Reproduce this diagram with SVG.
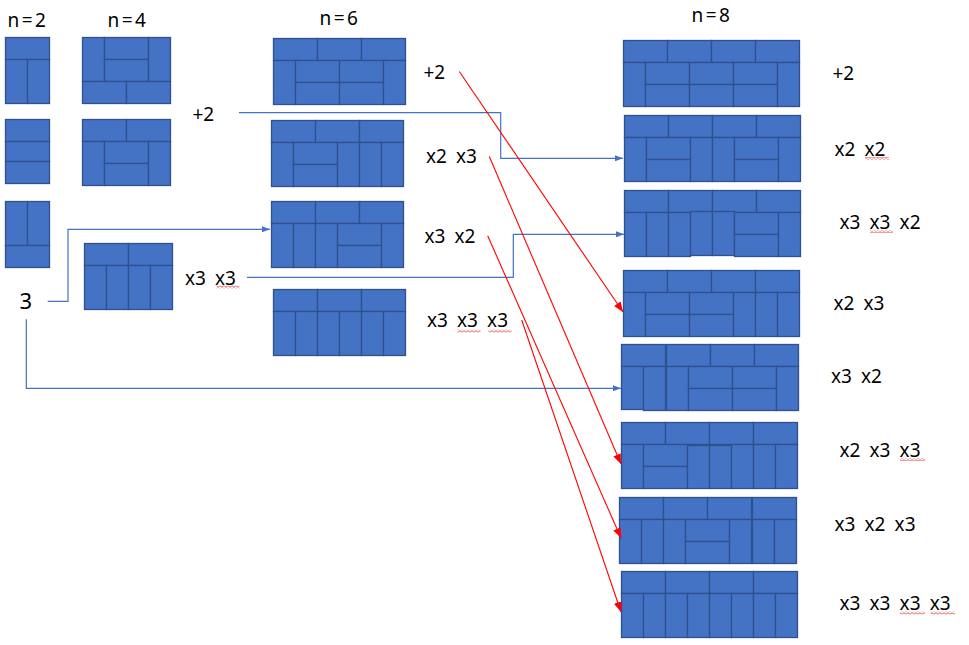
<svg xmlns="http://www.w3.org/2000/svg" width="969" height="645" viewBox="0 0 969 645">
<style>
.bk rect{fill:#4472C4;stroke:#2F528F;stroke-width:1.3}
.lbl{font-family:"Noto Sans","DejaVu Sans",sans-serif;font-size:19px;fill:#000;word-spacing:4.2px}
.hdr{font-family:"Noto Sans","DejaVu Sans",sans-serif;font-size:19px;fill:#000;letter-spacing:2.5px;text-anchor:middle}
.blue{fill:none;stroke:#4472C4;stroke-width:1.2}
.red{fill:none;stroke:#FF0000;stroke-width:1.1}
.wav{fill:url(#wave)}
</style>
<defs>
<marker id="ab" viewBox="0 0 8 6" refX="8" refY="3" markerWidth="8" markerHeight="6" markerUnits="userSpaceOnUse" orient="auto"><path d="M0,0L8,3L0,6z" fill="#4472C4"/></marker>
<marker id="ar" viewBox="0 0 10 8" refX="10" refY="4" markerWidth="10" markerHeight="8" markerUnits="userSpaceOnUse" orient="auto"><path d="M0,0L10,4L0,8z" fill="#FF0000"/></marker>
<pattern id="wave" width="4" height="3" patternUnits="userSpaceOnUse"><path d="M0,0.6L2,2.4L4,0.6" fill="none" stroke="#E02020" stroke-width="0.8"/></pattern>
<g id="t4" fill="#4472C4" stroke="#2F528F" stroke-width="1.3"><rect x="0" y="0" width="44" height="22"/><rect x="44" y="0" width="44" height="22"/><rect x="88" y="0" width="44" height="22"/><rect x="132" y="0" width="44" height="22"/></g>
<g id="t3" fill="#4472C4" stroke="#2F528F" stroke-width="1.3"><rect x="0" y="0" width="44" height="22"/><rect x="44" y="0" width="44" height="22"/><rect x="88" y="0" width="44" height="22"/></g>
</defs>

<!-- headers -->
<text class="hdr" x="28" y="26.5">n=2</text>
<text class="hdr" x="128" y="26.5">n=4</text>
<text class="hdr" x="340" y="25">n=6</text>
<text class="hdr" x="712" y="21.5">n=8</text>

<!-- n=2 -->
<g id="n2-a" class="bk" transform="translate(5.5,37.5)">
<rect x="0" y="0" width="44" height="22"/><rect x="0" y="22" width="22" height="44"/><rect x="22" y="22" width="22" height="44"/>
</g>
<g id="n2-b" class="bk" transform="translate(5.5,119.5)">
<rect x="0" y="0" width="44" height="22"/><rect x="0" y="22" width="44" height="20"/><rect x="0" y="42" width="44" height="22"/>
</g>
<g id="n2-c" class="bk" transform="translate(5.5,201.5)">
<rect x="0" y="0" width="22" height="44"/><rect x="22" y="0" width="22" height="44"/><rect x="0" y="44" width="44" height="22"/>
</g>

<!-- n=4 -->
<g id="n4-a" class="bk" transform="translate(82.5,37.5)">
<rect x="0" y="0" width="22" height="44"/><rect x="22" y="0" width="44" height="22"/><rect x="22" y="22" width="44" height="22"/><rect x="66" y="0" width="22" height="44"/><rect x="0" y="44" width="44" height="22"/><rect x="44" y="44" width="44" height="22"/>
</g>
<g id="n4-b" class="bk" transform="translate(82.5,119.5)">
<rect x="0" y="0" width="44" height="22"/><rect x="44" y="0" width="44" height="22"/><rect x="0" y="22" width="22" height="44"/><rect x="22" y="22" width="44" height="22"/><rect x="22" y="44" width="44" height="22"/><rect x="66" y="22" width="22" height="44"/>
</g>
<g id="n4-c" class="bk" transform="translate(84.5,243.5)">
<rect x="0" y="0" width="44" height="22"/><rect x="44" y="0" width="44" height="22"/><rect x="0" y="22" width="22" height="44"/><rect x="22" y="22" width="22" height="44"/><rect x="44" y="22" width="22" height="44"/><rect x="66" y="22" width="22" height="44"/>
</g>

<!-- n=6 -->
<g id="n6-a" class="bk" transform="translate(273.5,38.5)">
<use href="#t3"/><rect x="0" y="22" width="22" height="44"/><rect x="22" y="22" width="44" height="22"/><rect x="22" y="44" width="44" height="22"/><rect x="66" y="22" width="44" height="22"/><rect x="66" y="44" width="44" height="22"/><rect x="110" y="22" width="22" height="44"/>
</g>
<g id="n6-b" class="bk" transform="translate(271.5,120.5)">
<use href="#t3"/><rect x="0" y="22" width="22" height="44"/><rect x="22" y="22" width="44" height="22"/><rect x="22" y="44" width="44" height="22"/><rect x="66" y="22" width="22" height="44"/><rect x="88" y="22" width="22" height="44"/><rect x="110" y="22" width="22" height="44"/>
</g>
<g id="n6-c" class="bk" transform="translate(271.5,201.5)">
<use href="#t3"/><rect x="0" y="22" width="22" height="44"/><rect x="22" y="22" width="22" height="44"/><rect x="44" y="22" width="22" height="44"/><rect x="66" y="22" width="44" height="22"/><rect x="66" y="44" width="44" height="22"/><rect x="110" y="22" width="22" height="44"/>
</g>
<g id="n6-d" class="bk" transform="translate(273.5,289.5)">
<use href="#t3"/><rect x="0" y="22" width="22" height="44"/><rect x="22" y="22" width="22" height="44"/><rect x="44" y="22" width="22" height="44"/><rect x="66" y="22" width="22" height="44"/><rect x="88" y="22" width="22" height="44"/><rect x="110" y="22" width="22" height="44"/>
</g>

<!-- n=8 -->
<g id="n8-a" class="bk" transform="translate(623.5,40.5)">
<use href="#t4"/><rect x="0" y="22" width="22" height="44"/><rect x="22" y="22" width="44" height="22"/><rect x="22" y="44" width="44" height="22"/><rect x="66" y="22" width="44" height="22"/><rect x="66" y="44" width="44" height="22"/><rect x="110" y="22" width="44" height="22"/><rect x="110" y="44" width="44" height="22"/><rect x="154" y="22" width="22" height="44"/>
</g>
<g id="n8-b" class="bk" transform="translate(624.5,115.5)">
<use href="#t4"/><rect x="0" y="22" width="22" height="44"/><rect x="22" y="22" width="44" height="22"/><rect x="22" y="44" width="44" height="22"/><rect x="66" y="22" width="22" height="44"/><rect x="88" y="22" width="22" height="44"/><rect x="110" y="22" width="44" height="22"/><rect x="110" y="44" width="44" height="22"/><rect x="154" y="22" width="22" height="44"/>
</g>
<g id="n8-c" class="bk" transform="translate(624.5,190.5)">
<use href="#t4"/><rect x="0" y="22" width="22" height="44"/><rect x="22" y="22" width="22" height="44"/><rect x="44" y="22" width="22" height="44"/><rect x="66" y="21" width="22" height="44"/><rect x="88" y="21" width="22" height="44"/><rect x="110" y="22" width="44" height="22"/><rect x="110" y="44" width="44" height="22"/><rect x="154" y="22" width="22" height="44"/>
</g>
<g id="n8-d" class="bk" transform="translate(623.5,270.5)">
<use href="#t4"/><rect x="0" y="22" width="22" height="44"/><rect x="22" y="22" width="44" height="22"/><rect x="22" y="44" width="44" height="22"/><rect x="66" y="22" width="44" height="22"/><rect x="66" y="44" width="44" height="22"/><rect x="110" y="22" width="22" height="44"/><rect x="132" y="22" width="22" height="44"/><rect x="154" y="22" width="22" height="44"/>
</g>
<g id="n8-e" class="bk">
<g transform="translate(621.5,344.5)"><rect x="0" y="0" width="44" height="22"/><rect x="0" y="22" width="22" height="43"/><rect x="22" y="22" width="22" height="44"/></g>
<g transform="translate(666.5,344.5)"><use href="#t3"/><rect x="0" y="22" width="22" height="44"/><rect x="22" y="22" width="44" height="22"/><rect x="22" y="44" width="44" height="22"/><rect x="66" y="22" width="44" height="22"/><rect x="66" y="44" width="44" height="22"/><rect x="110" y="22" width="22" height="44"/></g>
</g>
<g id="n8-f" class="bk" transform="translate(621.5,422.5)">
<use href="#t4"/><rect x="0" y="22" width="22" height="44"/><rect x="22" y="22" width="44" height="22"/><rect x="22" y="44" width="44" height="22"/><rect x="66" y="23" width="22" height="43"/><rect x="88" y="23" width="22" height="43"/><rect x="110" y="22" width="22" height="44"/><rect x="132" y="22" width="22" height="44"/><rect x="154" y="22" width="22" height="44"/>
</g>
<g id="n8-g" class="bk">
<g transform="translate(619.5,497.5)"><use href="#t3"/><rect x="0" y="22" width="22" height="44"/><rect x="22" y="22" width="22" height="44"/><rect x="44" y="22" width="22" height="44"/><rect x="66" y="22" width="44" height="22"/><rect x="66" y="44" width="44" height="22"/><rect x="110" y="22" width="22" height="44"/></g>
<g transform="translate(752.5,497.5)"><rect x="0" y="0" width="44" height="22"/><rect x="0" y="22" width="22" height="44"/><rect x="22" y="22" width="22" height="44"/></g>
</g>
<g id="n8-h" class="bk" transform="translate(621.5,571.5)">
<use href="#t4"/><rect x="0" y="22" width="22" height="44"/><rect x="22" y="22" width="22" height="44"/><rect x="44" y="22" width="22" height="44"/><rect x="66" y="22" width="22" height="44"/><rect x="88" y="22" width="22" height="44"/><rect x="110" y="22" width="22" height="44"/><rect x="132" y="22" width="22" height="44"/><rect x="154" y="22" width="22" height="44"/>
</g>

<!-- labels -->
<g id="labels">
<text class="lbl" x="192.5" y="120.5">+2</text>
<text class="lbl" x="185" y="285">x3 x3</text>
<text class="lbl" x="19.5" y="309" style="font-size:22px">3</text>
<text class="lbl" x="423.5" y="79">+2</text>
<text class="lbl" x="426" y="163">x2 x3</text>
<text class="lbl" x="424.5" y="242.5">x3 x2</text>
<text class="lbl" x="427" y="327">x3 x3 x3</text>
<text class="lbl" x="832.5" y="79.5">+2</text>
<text class="lbl" x="834.5" y="156">x2 x2</text>
<text class="lbl" x="839.5" y="228.5">x3 x3 x2</text>
<text class="lbl" x="833.5" y="309.5">x2 x3</text>
<text class="lbl" x="831" y="382.5">x3 x2</text>
<text class="lbl" x="839.5" y="456.5">x2 x3 x3</text>
<text class="lbl" x="834.5" y="530.5">x3 x2 x3</text>
<text class="lbl" x="839.5" y="609.5">x3 x3 x3 x3</text>
</g>

<!-- spell-check underlines -->
<g id="underlines">
<rect class="wav" x="216.5" y="285.5" width="23" height="3"/>
<rect class="wav" x="457.5" y="329.5" width="23" height="3"/>
<rect class="wav" x="488.5" y="329.5" width="23" height="3"/>
<rect class="wav" x="865" y="157" width="24" height="3"/>
<rect class="wav" x="870" y="230" width="23" height="3"/>
<rect class="wav" x="900" y="458" width="25" height="3"/>
<rect class="wav" x="900" y="611.5" width="25" height="3"/>
<rect class="wav" x="930.5" y="611.5" width="24.5" height="3"/>
</g>

<!-- connectors -->
<g id="connectors">
<path class="blue" d="M239,112.7H500.7V158.3H623" marker-end="url(#ab)"/>
<path class="blue" d="M247,277.3H513.3V234.3H624" marker-end="url(#ab)"/>
<path class="blue" d="M47.7,301.3H68V229.3H270" marker-end="url(#ab)"/>
<path class="blue" d="M26.3,319.3V388.3H621" marker-end="url(#ab)"/>
<path class="red" d="M459.3,71.5L623,312" marker-end="url(#ar)"/>
<path class="red" d="M489.3,156.5L621,464" marker-end="url(#ar)"/>
<path class="red" d="M487.7,235.7L621,538" marker-end="url(#ar)"/>
<path class="red" d="M521.7,320L621,612" marker-end="url(#ar)"/>
</g>
</svg>
